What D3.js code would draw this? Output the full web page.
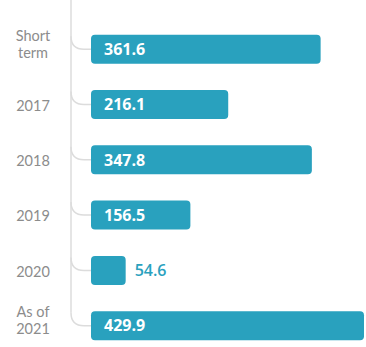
<!DOCTYPE html>
<html>
<head>
<meta charset="utf-8">
<script src="https://cdn.jsdelivr.net/npm/d3@7/dist/d3.min.js"></script>
<style>
  html, body { margin: 0; padding: 0; background: #fff; }
  svg { display: block; }
</style>
</head>
<body>
<svg id="chart" width="366" height="347"></svg>
<script>
// Maturity buckets and amounts
const categories = ["Short term", "2017", "2018", "2019", "2020", "As of 2021"];
const categoryLines = [["Short", "term"], ["2017"], ["2018"], ["2019"], ["2020"], ["As of", "2021"]];
const values = [361.6, 216.1, 347.8, 156.5, 54.6, 429.9];

const W = 366, H = 347;
const barColor = "#29a1be";
const labelColor = "#8c8c8c";
const spineColor = "#dcdcdc";
const font = "'Open Sans', 'Noto Sans', sans-serif";
const catFont = "Lato, 'Open Sans', sans-serif";

const svg = d3.select("#chart");

const y = d3.scaleBand()
  .domain(categories)
  .range([8.4, 366.5])
  .padding(0.475);

const x = d3.scaleLinear()
  .domain([0, d3.max(values)])
  .range([91, 364]);

const spineX = 71, r = 13;
const centers = categories.map(c => y(c) + y.bandwidth() / 2);

// vertical spine
svg.append("line")
  .attr("x1", spineX).attr("x2", spineX)
  .attr("y1", 0).attr("y2", centers[centers.length - 1] - r)
  .attr("stroke", spineColor).attr("stroke-width", 1.5);

// curved connectors from the spine into each bar
svg.append("g").selectAll("path")
  .data(categories)
  .join("path")
  .attr("d", (c, i) => {
    const cy = centers[i];
    return `M${spineX},${cy - r} Q${spineX},${cy} ${spineX + r},${cy} L${x(0)},${cy}`;
  })
  .attr("fill", "none")
  .attr("stroke", spineColor)
  .attr("stroke-width", 1.5);

// bars
svg.append("g").selectAll("rect")
  .data(values)
  .join("rect")
  .attr("x", x(0))
  .attr("y", (d, i) => y(categories[i]))
  .attr("width", d => x(d) - x(0))
  .attr("height", y.bandwidth())
  .attr("rx", 4)
  .attr("fill", barColor);

// value labels: inside when the bar is wide enough, otherwise after it
svg.append("g").selectAll("text")
  .data(values)
  .join("text")
  .each(function (d, i) {
    const inside = x(d) - x(0) > 60;
    d3.select(this)
      .attr("x", inside ? x(0) + 13 : x(d) + 9)
      .attr("y", centers[i])
      .attr("dy", "0.36em")
      .attr("fill", inside ? "#fff" : barColor)
      .attr("font-weight", inside ? 700 : 600)
      .attr("font-size", 16);
  })
  .attr("font-family", font)
  .text(d => d.toFixed(1));

// category labels, one text per line
const lineGap = 17;
const catRows = categoryLines.flatMap((lines, i) =>
  lines.map((l, j) => ({
    text: l,
    y: centers[i] - (lines.length > 1 ? 5 : -1) + (j - (lines.length - 1) / 2) * lineGap
  }))
);
svg.append("g").selectAll("text")
  .data(catRows)
  .join("text")
  .attr("x", 33)
  .attr("y", d => d.y)
  .attr("dy", "0.36em")
  .attr("text-anchor", "middle")
  .attr("font-family", catFont)
  .attr("font-size", 14.5)
  .attr("fill", labelColor)
  .text(d => d.text);
</script>
</body>
</html>
